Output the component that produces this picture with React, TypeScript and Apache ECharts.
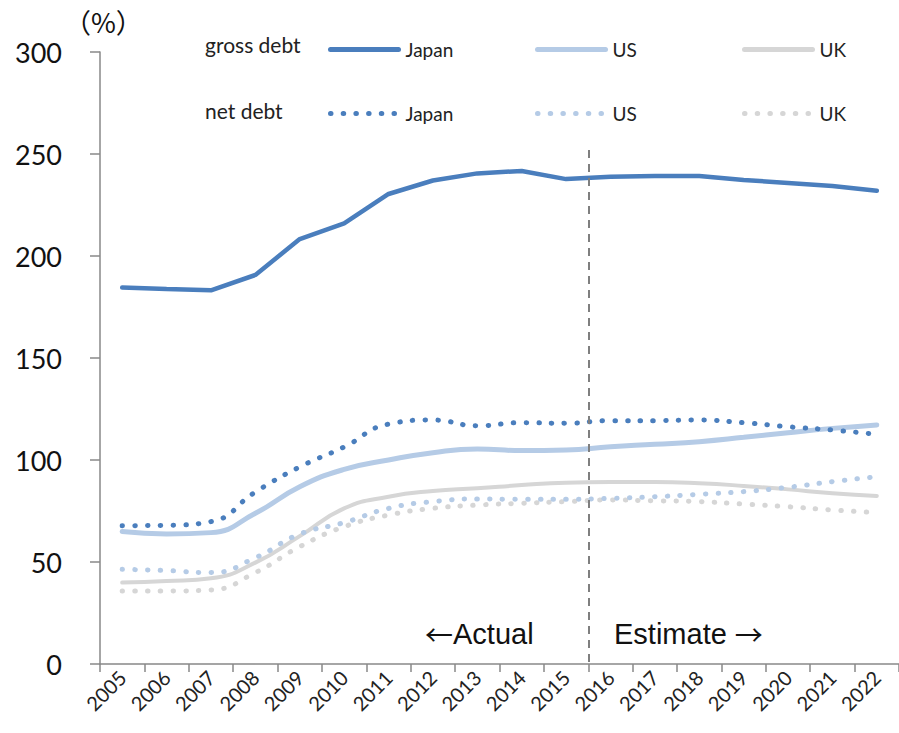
import React, { useEffect, useRef } from "react";
import * as echarts from "echarts";

const years = ["2005","2006","2007","2008","2009","2010","2011","2012","2013","2014","2015","2016","2017","2018","2019","2020","2021","2022"];
const yTicks = [0, 50, 100, 150, 200, 250, 300];
const japanGross = [184.5,183.8,183.2,190.7,208.3,216,230.4,237,240.5,241.7,237.7,238.9,239.2,239.2,237.3,235.8,234.3,232];
const usGross = [64.9,63.7,64.4,73.9,86.9,95.4,100,103.6,105.4,104.6,104.9,106.5,107.7,109,111.1,113.4,115.5,117.2];
const ukGross = [39.9,40.7,42,49.7,62.7,76.3,82,84.8,86.1,87.7,88.9,89.2,89.2,88.6,87.3,85.6,83.7,82.4];
const japanNet = [67.8,68,69.8,84.3,96.6,106.4,117.6,119.6,116.8,118.3,118,119.3,119.3,119.6,118.3,116.3,114.7,112.6];
const usNet = [46.4,45.8,44.8,52.1,63.7,69.3,76.3,79.6,80.9,80.7,80.7,81.2,82,83.2,84.5,86.6,89.4,91.8];
const ukNet = [35.8,35.8,36.3,44.8,57.5,67.3,73,76.3,77.9,78.8,79.6,80.4,80,79.6,78.4,77.1,75.5,74.2];
const splitIndex = 11; // boundary between 2015 and 2016

const C_JP = "#4a7ebd";
const C_US = "#b5cbe6";
const C_UK = "#d6d6d6";
const FONT = "Lato";

export default function App() {
  const ref = useRef<HTMLDivElement>(null);
  useEffect(() => {
    const chart = echarts.init(ref.current!, null, { renderer: "svg" });
    const dotted = (color: string, w: number) => ({ color, width: w, type: [0.5, 12.2], cap: "round" });
    const solid = (color: string, w: number) => ({ color, width: w, type: "solid", cap: "round" });
    const mk = (name: string, data: number[], color: string, ls: any, smooth: boolean, z: number) => ({
      name, type: "line", data, smooth, symbol: "none", showSymbol: false, lineStyle: ls, itemStyle: { color }, z,
    });
    const legendCommon = {
      orient: "vertical", top: 35, itemGap: 45, itemWidth: 68, itemHeight: 14, selectedMode: false,
      itemStyle: { opacity: 0, borderWidth: 0 },
      lineStyle: { width: 5, cap: "round" },
      textStyle: { fontFamily: FONT, fontSize: 19, color: "#222", padding: [0, 0, 0, 2] },
      formatter: (n: string) => n.split(" ")[1],
    };
    const arrowFont = '"Noto Sans CJK JP"';
    const txtFont = '"Liberation Sans"';
    chart.setOption({
      animation: false,
      grid: { left: 100, top: 52, bottom: 69, width: 805 },
      legend: [
        { ...legendCommon, left: 323, data: ["gross Japan", "net Japan"] },
        { ...legendCommon, left: 530, data: ["gross US", "net US"] },
        { ...legendCommon, left: 737, data: ["gross UK", "net UK"] },
      ],
      xAxis: [
        {
          type: "category", data: years, boundaryGap: true,
          axisLine: { lineStyle: { color: "#888", width: 1.5 } },
          axisTick: { show: true, length: 8, lineStyle: { color: "#888", width: 1.5 } },
          axisLabel: { rotate: 45, fontFamily: FONT, fontSize: 20, color: "#222", margin: 10, interval: 0 },
        },
        { type: "value", min: 0, max: years.length, show: false },
      ],
      yAxis: {
        type: "value", min: yTicks[0], max: yTicks[yTicks.length - 1], interval: 50,
        splitLine: { show: false },
        axisLine: { show: true, lineStyle: { color: "#888", width: 1.5 } },
        axisTick: { show: true, length: 10, lineStyle: { color: "#888", width: 1.5 } },
        axisLabel: { fontFamily: FONT, fontSize: 27, color: "#111", margin: 38 },
      },
      graphic: [
        { type: "text", left: 64, top: 8, style: { text: "（%）", font: '27px "Noto Sans CJK JP"', fill: "#111" } },
        { type: "text", left: 205, top: 34, style: { text: "gross debt", font: `21px ${FONT}`, fill: "#222" } },
        { type: "text", left: 205, top: 100, style: { text: "net debt", font: `21px ${FONT}`, fill: "#222" } },
        {
          type: "text", left: 425, top: 619,
          style: {
            text: "{a|←}{b|Actual}",
            rich: {
              a: { fontFamily: arrowFont, fontSize: 28, fill: "#111" },
              b: { fontFamily: txtFont, fontSize: 29, fill: "#111" },
            },
          },
        },
        {
          type: "text", left: 614, top: 619,
          style: {
            text: "{b|Estimate }{a|→}",
            rich: {
              a: { fontFamily: arrowFont, fontSize: 28, fill: "#111" },
              b: { fontFamily: txtFont, fontSize: 29, fill: "#111" },
            },
          },
        },
      ],
      series: [
        mk("gross UK", ukGross, C_UK, solid(C_UK, 4), true, 2),
        mk("net UK", ukNet, C_UK, dotted(C_UK, 5), true, 2),
        mk("gross US", usGross, C_US, solid(C_US, 5), true, 3),
        mk("net US", usNet, C_US, dotted(C_US, 5), true, 3),
        mk("gross Japan", japanGross, C_JP, solid(C_JP, 4.5), false, 4),
        mk("net Japan", japanNet, C_JP, dotted(C_JP, 5), true, 4),
        {
          name: "split", type: "line", xAxisIndex: 1, yAxisIndex: 0, data: [[splitIndex, 0]],
          symbol: "none", showSymbol: false, lineStyle: { width: 0 }, silent: true, legendHoverLink: false,
          markLine: {
            silent: true, symbol: "none", label: { show: false },
            lineStyle: { color: "#7f7f7f", width: 2, type: [8, 6] },
            data: [[{ coord: [splitIndex, 252] }, { coord: [splitIndex, 0] }]],
          },
        },
      ],
    });
    return () => chart.dispose();
  }, []);
  return <div ref={ref} style={{ position: "absolute", left: 0, top: 0, width: 899, height: 733 }} />;
}
